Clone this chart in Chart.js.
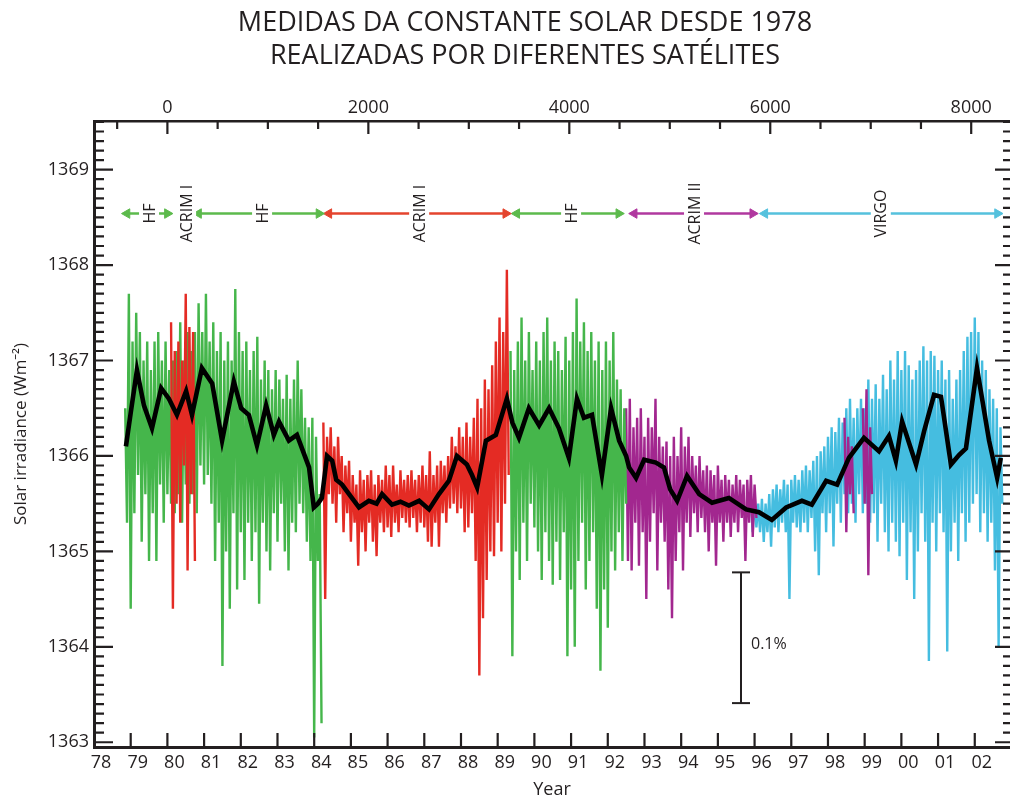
<!DOCTYPE html>
<html>
<head>
<meta charset="utf-8">
<script src="https://cdn.jsdelivr.net/npm/chart.js@4.4.1/dist/chart.umd.min.js"></script>
<style>
  html, body { margin: 0; padding: 0; background: #fff; }
  canvas { display: block; }
</style>
</head>
<body>
<canvas id="tsi-chart" width="1010" height="799"></canvas>
<script>
// ── Text ───────────────────────────────────────────────────────
const titleLines = ['MEDIDAS DA CONSTANTE SOLAR DESDE 1978', 'REALIZADAS POR DIFERENTES SATÉLITES'];
const xTitle = 'Year';
const yTitle = 'Solar irradiance (Wm⁻²)';

// ── Axes ───────────────────────────────────────────────────────
const yearTicks = [78, 79, 80, 81, 82, 83, 84, 85, 86, 87, 88, 89, 90, 91, 92, 93, 94, 95, 96, 97, 98, 99, 100, 101, 102];
const yearLabels = ['78', '79', '80', '81', '82', '83', '84', '85', '86', '87', '88', '89', '90', '91', '92', '93', '94', '95', '96', '97', '98', '99', '00', '01', '02'];
const dayTicks = [0, 2000, 4000, 6000, 8000];
const irradianceTicks = [1363, 1364, 1365, 1366, 1367, 1368, 1369];
const yearMin = 78, yearMax = 102.96;
const dayZeroYear = 80;          // day 0 = 1 Jan 1980
const irrMin = 1362.95, irrMax = 1369.51;

// ── Daily values, read as high / low per 0.1-year bin ─────────
const binStep = 0.1;

const hfEarlyStart = 78.85;
const hfEarlyHi = [1366.5, 1367.7, 1367.2, 1367.5, 1367.3, 1367.0, 1367.2, 1366.9, 1367.2, 1367.3,
                   1367.0, 1367.2, 1366.9, 1367.0, 1367.1, 1367.4, 1367.0, 1367.3, 1367.1, 1367.3,
                   1367.6, 1367.3, 1367.7, 1367.2, 1367.4, 1367.1, 1367.3, 1367.0, 1367.2, 1367.0,
                   1367.75, 1367.3, 1367.1, 1367.2, 1366.9, 1367.1, 1367.25, 1366.8, 1367.0, 1366.9,
                   1366.7, 1366.9, 1366.8, 1366.6, 1366.85, 1366.6, 1366.8, 1367.0, 1366.7, 1366.4,
                   1366.3, 1366.4, 1366.2, 1365.6];
const hfEarlyLo = [1365.3, 1364.4, 1365.4, 1365.8, 1365.1, 1365.6, 1364.9, 1365.4, 1364.9, 1365.7,
                   1365.3, 1365.6, 1365.5, 1365.4, 1365.6, 1365.3, 1365.7, 1365.5, 1365.6, 1365.4,
                   1365.9, 1365.7, 1365.8, 1365.5, 1364.9, 1365.3, 1363.8, 1365.0, 1364.4, 1365.4,
                   1364.6, 1365.2, 1364.7, 1365.3, 1364.9, 1365.2, 1364.45, 1365.3, 1365.0, 1364.8,
                   1365.4, 1365.1, 1365.5, 1365.0, 1364.8, 1365.3, 1365.2, 1365.5, 1365.4, 1365.1,
                   1364.9, 1363.05, 1364.9, 1363.2];

const acrimEarlyStart = 80.1;
const acrimEarlyHi = [1367.4, 1367.1, 1367.2, 1367.0, 1367.7, 1367.35, 1367.3];
const acrimEarlyLo = [1364.4, 1365.5, 1365.3, 1365.9, 1364.8, 1365.6, 1364.9];

const acrimStart = 84.25;
const acrimHi = [1366.35, 1366.2, 1366.3, 1366.1, 1366.2, 1366.0, 1365.9, 1365.95, 1365.8, 1365.7,
                 1365.85, 1365.75, 1365.8, 1365.85, 1365.7, 1365.8, 1365.75, 1365.9, 1365.8, 1365.9,
                 1365.7, 1365.85, 1365.75, 1365.8, 1365.85, 1365.75, 1365.8, 1365.9, 1365.8, 1366.05,
                 1365.8, 1365.9, 1365.95, 1365.9, 1366.0, 1366.2, 1366.1, 1366.3, 1366.2, 1366.35,
                 1366.2, 1366.4, 1366.6, 1366.5, 1366.8, 1366.7, 1366.95, 1367.2, 1367.45, 1367.3,
                 1367.95];
const acrimLo = [1364.5, 1365.6, 1365.5, 1365.3, 1365.6, 1365.2, 1365.4, 1365.1, 1365.3, 1364.85,
                 1365.2, 1365.0, 1365.3, 1365.1, 1364.95, 1365.3, 1365.2, 1365.25, 1365.15, 1365.3,
                 1365.2, 1365.35, 1365.3, 1365.25, 1365.35, 1365.2, 1365.3, 1365.25, 1365.1, 1365.05,
                 1365.3, 1365.05, 1365.4, 1365.3, 1365.45, 1365.5, 1365.4, 1365.45, 1365.2, 1365.25,
                 1365.4, 1364.9, 1363.7, 1364.3, 1364.7, 1365.0, 1364.95, 1365.3, 1365.0, 1365.5,
                 1365.8];

const hfLateStart = 89.35;
const hfLateHi = [1367.1, 1366.9, 1367.2, 1367.45, 1367.0, 1367.3, 1366.9, 1367.2, 1367.0, 1367.3,
                  1367.45, 1367.0, 1367.2, 1367.1, 1366.9, 1367.25, 1367.0, 1367.3, 1367.65, 1367.2,
                  1367.4, 1367.1, 1367.3, 1367.0, 1367.2, 1366.9, 1367.2, 1367.0, 1367.3, 1366.8,
                  1366.7, 1366.5];
const hfLateLo = [1363.9, 1365.0, 1364.7, 1365.3, 1364.9, 1365.5, 1365.25, 1365.0, 1364.7, 1365.2,
                  1364.9, 1364.65, 1365.1, 1364.7, 1365.2, 1363.9, 1364.6, 1364.0, 1364.9, 1365.3,
                  1364.6, 1364.9, 1365.2, 1364.4, 1363.75, 1364.6, 1364.2, 1365.0, 1364.8, 1365.2,
                  1364.9, 1365.5];

const acrim2Start = 92.5;
const acrim2Hi = [1366.5, 1366.6, 1366.3, 1366.4, 1366.5, 1366.2, 1366.4, 1366.3, 1366.6, 1366.2,
                  1366.1, 1366.15, 1366.0, 1366.2, 1366.0, 1366.3, 1366.1, 1366.2, 1366.0, 1365.9,
                  1366.0, 1365.85, 1365.9, 1365.85, 1365.8, 1365.9, 1365.75, 1365.8, 1365.75, 1365.7,
                  1365.8, 1365.75, 1365.7, 1365.75, 1365.8, 1365.7];
const acrim2Lo = [1364.9, 1364.8, 1365.3, 1364.85, 1365.2, 1364.5, 1365.1, 1365.4, 1364.8, 1365.3,
                  1365.1, 1364.6, 1364.3, 1364.9, 1365.2, 1364.8, 1365.3, 1365.15, 1365.4, 1365.2,
                  1365.35, 1365.2, 1365.0, 1365.3, 1364.85, 1365.3, 1365.1, 1365.3, 1365.15, 1365.3,
                  1365.2, 1365.35, 1364.9, 1365.3, 1365.15, 1365.35];

const acrim2LateStart = 98.45;
const acrim2LateHi = [1366.4, 1366.2, 1366.1, null, null, 1366.5, 1366.7, 1366.3];
const acrim2LateLo = [1365.2, 1365.6, 1365.4, null, null, 1365.5, 1364.75, 1365.6];

const virgoStart = 95.9;
const virgoHi = [1365.5, 1365.55, 1365.5, 1365.55, 1365.5, 1365.6, 1365.65, 1365.7, 1365.65, 1365.75,
                 1365.7, 1365.75, 1365.8, 1365.75, 1365.85, 1365.9, 1365.85, 1365.95, 1366.0, 1366.05,
                 1366.1, 1366.2, 1366.3, 1366.25, 1366.4, 1366.35, 1366.5, 1366.6, 1366.4, 1366.5,
                 1366.6, 1366.5, 1366.8, 1366.6, 1366.75, 1366.6, 1366.85, 1366.7, 1367.0, 1366.8,
                 1367.1, 1366.9, 1367.1, 1366.95, 1366.8, 1366.9, 1367.0, 1367.15, 1367.0, 1367.1,
                 1367.05, 1366.9, 1367.0, 1366.8, 1366.9, 1366.6, 1366.8, 1366.9, 1367.1, 1367.25,
                 1367.3, 1367.45, 1367.3, 1367.0, 1366.9, 1366.7, 1366.6, 1366.5, 1366.3];
const virgoLo = [1365.2, 1365.25, 1365.2, 1365.1, 1365.2, 1365.05, 1365.25, 1365.2, 1365.3, 1365.2,
                 1364.5, 1365.3, 1365.25, 1365.2, 1365.3, 1365.2, 1365.35, 1365.0, 1364.75, 1365.4,
                 1365.2, 1365.4, 1365.05, 1365.5, 1365.3, 1365.6, 1365.4, 1365.5, 1365.3, 1365.6,
                 1365.4, 1365.5, 1365.3, 1365.4, 1365.1, 1365.5, 1365.2, 1365.0, 1365.3, 1365.1,
                 1364.95, 1365.3, 1364.7, 1365.2, 1364.5, 1365.0, 1365.4, 1365.1, 1363.85, 1365.3,
                 1365.0, 1365.4, 1365.2, 1363.95, 1365.0, 1365.3, 1364.9, 1365.4, 1365.1, 1365.3,
                 1365.5, 1365.6, 1365.2, 1365.4, 1365.1, 1365.3, 1364.8, 1364.0, 1365.5];

// ── Running mean (black) ──────────────────────────────────────
const meanYears = [78.87, 79.0, 79.17, 79.36, 79.58, 79.83, 80.04, 80.26, 80.51, 80.67,
                   80.94, 81.22, 81.49, 81.81, 82.01, 82.22, 82.44, 82.69, 82.9, 83.04,
                   83.31, 83.53, 83.86, 83.99, 84.1, 84.21, 84.35, 84.49, 84.6, 84.76,
                   84.95, 85.22, 85.49, 85.7, 85.85, 86.12, 86.35, 86.58, 86.86, 87.13,
                   87.4, 87.67, 87.89, 88.16, 88.3, 88.44, 88.68, 88.95, 89.25, 89.4,
                   89.58, 89.85, 90.13, 90.4, 90.67, 90.94, 91.16, 91.35, 91.57, 91.84,
                   92.09, 92.31, 92.5, 92.58, 92.77, 92.99, 93.31, 93.53, 93.7, 93.89,
                   94.16, 94.49, 94.84, 95.3, 95.77, 96.12, 96.47, 96.86, 97.29, 97.56,
                   97.95, 98.25, 98.57, 98.98, 99.39, 99.66, 99.85, 100.02, 100.4, 100.62,
                   100.89, 101.08, 101.35, 101.57, 101.76, 102.06, 102.39, 102.61, 102.71];
const meanValues = [1366.1, 1366.45, 1366.9, 1366.53, 1366.29, 1366.71, 1366.6, 1366.43, 1366.68, 1366.43,
                    1366.92, 1366.76, 1366.16, 1366.78, 1366.5, 1366.43, 1366.11, 1366.53, 1366.22, 1366.36,
                    1366.16, 1366.22, 1365.88, 1365.46, 1365.5, 1365.56, 1366.0, 1365.95, 1365.75, 1365.7,
                    1365.6, 1365.46, 1365.53, 1365.5, 1365.6, 1365.49, 1365.52, 1365.48, 1365.53, 1365.44,
                    1365.6, 1365.74, 1366.0, 1365.91, 1365.8, 1365.67, 1366.16, 1366.22, 1366.6, 1366.35,
                    1366.19, 1366.5, 1366.32, 1366.5, 1366.29, 1365.98, 1366.6, 1366.4, 1366.43, 1365.8,
                    1366.5, 1366.16, 1366.0, 1365.88, 1365.77, 1365.96, 1365.93, 1365.88, 1365.65, 1365.53,
                    1365.79, 1365.6, 1365.51, 1365.56, 1365.44, 1365.41, 1365.33, 1365.46, 1365.53, 1365.49,
                    1365.74, 1365.7, 1365.98, 1366.19, 1366.05, 1366.21, 1365.95, 1366.36, 1365.91, 1366.26,
                    1366.64, 1366.62, 1365.91, 1366.01, 1366.08, 1366.92, 1366.16, 1365.77, 1365.98];

// ── Instrument periods (arrows) ───────────────────────────────
const instruments = ['HF', 'ACRIM I', 'HF', 'ACRIM I', 'HF', 'ACRIM II', 'VIRGO'];
const instrumentKeys = ['hf', 'acrim', 'hf', 'acrim', 'hf', 'acrim2', 'virgo'];
const instrumentStart = [78.9, null, 80.85, 84.4, 89.52, 92.72, 96.28];
const instrumentEnd = [80.0, null, 84.13, 89.22, 92.3, 95.95, 102.62];
const instrumentLabelAt = [79.5, 80.51, 82.58, 86.86, 91.0, 94.35, 99.44];
const arrowLevel = 1368.54;

// ── 0.1 % scale bar ───────────────────────────────────────────
const scaleBarYear = 95.63;
const scaleBarTop = 1364.78;
const scaleBarBottom = 1363.41;
const scaleBarLabel = '0.1%';

// ── Styles ────────────────────────────────────────────────────
const INK = '#231f20';
const FONT = "'Open Sans', 'Noto Sans', sans-serif";
const dataColor = { hf: '#45b64b', acrim: '#e42b24', acrim2: '#a2278f', virgo: '#45bde0' };
const arrowColor = { hf: '#5cba4c', acrim: '#e4442e', acrim2: '#b0389f', virgo: '#55c1dd' };

// high/low pairs -> alternating points (daily scatter look)
function zigzag(start, hi, lo) {
    const pts = [];
    hi.forEach((h, i) => {
        const t = start + i * binStep;
        if (h === null) {
            pts.push({ x: t, y: null });
            return;
        }
        pts.push({ x: t, y: h });
        pts.push({ x: t + binStep / 2, y: lo[i] });
    });
    return pts;
}

function noiseSet(pts, key, order) {
    return {
        type: 'line',
        data: pts,
        borderColor: dataColor[key],
        borderWidth: 2.4,
        borderJoinStyle: 'miter',
        pointRadius: 0,
        tension: 0,
        spanGaps: false,
        order: order
    };
}

const arrowSets = [];
instruments.forEach((name, i) => {
    if (instrumentStart[i] === null) return;
    const c = arrowColor[instrumentKeys[i]];
    arrowSets.push({
        type: 'line',
        data: [{ x: instrumentStart[i], y: arrowLevel }, { x: instrumentEnd[i], y: arrowLevel }],
        borderColor: c,
        backgroundColor: c,
        borderWidth: 2.5,
        pointStyle: 'triangle',
        pointRadius: 5.5,
        pointRotation: [270, 90],
        pointBorderWidth: 1,
        order: 0
    });
});

// ── Annotations, inward ticks, title ──────────────────────────
const decorations = {
    id: 'decorations',
    afterDatasetsDraw(chart) {
        const { ctx, chartArea: a, scales: { x, x2, y } } = chart;
        ctx.save();

        // instrument labels sit in a gap of their arrow
        ctx.font = `16px ${FONT}`;
        ctx.textAlign = 'center';
        ctx.textBaseline = 'middle';
        instruments.forEach((name, i) => {
            const px = x.getPixelForValue(instrumentLabelAt[i]);
            const py = y.getPixelForValue(arrowLevel);
            const w = ctx.measureText(name).width;
            ctx.save();
            ctx.translate(px, py);
            ctx.rotate(-Math.PI / 2);
            ctx.fillStyle = '#fff';
            ctx.fillRect(-w / 2 - 5, -10, w + 10, 20);
            ctx.fillStyle = INK;
            ctx.fillText(name, 0, 1);
            ctx.restore();
        });

        // scale bar label
        const bx = x.getPixelForValue(scaleBarYear);
        const by = (y.getPixelForValue(scaleBarTop) + y.getPixelForValue(scaleBarBottom)) / 2;
        ctx.textAlign = 'left';
        ctx.fillStyle = INK;
        ctx.fillText(scaleBarLabel, bx + 10, by + 7);

        // inward tick marks
        ctx.strokeStyle = INK;
        ctx.lineWidth = 2.2;
        ctx.beginPath();
        for (let k = Math.ceil(y.min * 10); k <= Math.floor(y.max * 10); k++) {
            const py = y.getPixelForValue(k / 10);
            const major = k % 10 === 0;
            ctx.moveTo(a.left, py);
            ctx.lineTo(a.left + (major ? 19 : 10), py);
            ctx.moveTo(a.right, py);
            ctx.lineTo(a.right - (major ? 15 : 7), py);
        }
        for (let d = Math.ceil(x2.min / 500) * 500; d <= x2.max; d += 500) {
            const px = x2.getPixelForValue(d);
            ctx.moveTo(px, a.top);
            ctx.lineTo(px, a.top + (d % 2000 === 0 ? 13 : 8));
        }
        yearTicks.forEach(v => {
            if (v === yearMin) return;
            const px = x.getPixelForValue(v);
            ctx.moveTo(px, a.bottom);
            ctx.lineTo(px, a.bottom - 14);
        });
        ctx.stroke();

        // two-line title
        ctx.font = `27px ${FONT}`;
        ctx.textAlign = 'center';
        ctx.textBaseline = 'middle';
        ctx.fillText(titleLines[0], 525, 23);
        ctx.fillText(titleLines[1], 525, 56);
        ctx.restore();
    }
};

const ctx = document.getElementById('tsi-chart').getContext('2d');

new Chart(ctx, {
    type: 'line',
    data: {
        datasets: [
            ...arrowSets,
            {
                type: 'line',
                data: [{ x: scaleBarYear, y: scaleBarTop }, { x: scaleBarYear, y: scaleBarBottom }],
                borderColor: INK,
                borderWidth: 2,
                pointStyle: 'line',
                pointRadius: 9,
                pointBorderColor: INK,
                pointBorderWidth: 2,
                order: 0
            },
            {
                type: 'line',
                data: meanYears.map((t, i) => ({ x: t, y: meanValues[i] })),
                borderColor: '#000',
                borderWidth: 4.6,
                pointRadius: 0,
                tension: 0,
                order: 1
            },
            noiseSet(zigzag(acrimEarlyStart, acrimEarlyHi, acrimEarlyLo), 'acrim', 2),
            noiseSet(zigzag(acrim2LateStart, acrim2LateHi, acrim2LateLo), 'acrim2', 2),
            noiseSet(zigzag(hfEarlyStart, hfEarlyHi, hfEarlyLo), 'hf', 3),
            noiseSet(zigzag(acrimStart, acrimHi, acrimLo), 'acrim', 3),
            noiseSet(zigzag(hfLateStart, hfLateHi, hfLateLo), 'hf', 3),
            noiseSet(zigzag(virgoStart, virgoHi, virgoLo), 'virgo', 4),
            noiseSet(zigzag(acrim2Start, acrim2Hi, acrim2Lo), 'acrim2', 3)
        ]
    },
    options: {
        responsive: false,
        animation: false,
        events: [],
        layout: { padding: 0, autoPadding: false },
        plugins: {
            legend: { display: false },
            tooltip: { enabled: false },
            title: { display: false }
        },
        scales: {
            x: {
                type: 'linear',
                position: 'bottom',
                min: yearMin,
                max: yearMax,
                afterFit: s => { s.height = 52; },
                afterBuildTicks: s => { s.ticks = yearTicks.map(v => ({ value: v })); },
                grid: { display: false, drawTicks: false },
                border: { display: true, color: INK, width: 3 },
                ticks: {
                    callback: v => yearLabels[yearTicks.indexOf(v)],
                    font: { family: FONT, size: 18 },
                    color: INK,
                    padding: 5,
                    labelOffset: 7,
                    maxRotation: 0,
                    autoSkip: false
                },
                title: {
                    display: true,
                    text: xTitle,
                    font: { family: FONT, size: 18, lineHeight: 1 },
                    color: INK,
                    padding: { top: 0, bottom: 0 }
                }
            },
            x2: {
                type: 'linear',
                position: 'top',
                min: (yearMin - dayZeroYear) * 365.25,
                max: (yearMax - dayZeroYear) * 365.25,
                afterFit: s => { s.height = 121; },
                afterBuildTicks: s => { s.ticks = dayTicks.map(v => ({ value: v })); },
                grid: { display: false, drawTicks: false },
                border: { display: true, color: INK, width: 2.5 },
                ticks: {
                    callback: v => String(v),
                    font: { family: FONT, size: 18 },
                    color: INK,
                    padding: 2,
                    maxRotation: 0,
                    autoSkip: false
                }
            },
            y: {
                type: 'linear',
                position: 'left',
                min: irrMin,
                max: irrMax,
                afterFit: s => { s.width = 94; },
                afterBuildTicks: s => { s.ticks = irradianceTicks.map(v => ({ value: v })); },
                grid: { display: false, drawTicks: false },
                border: { display: true, color: INK, width: 3 },
                ticks: {
                    callback: v => String(v),
                    font: { family: FONT, size: 18 },
                    color: INK,
                    padding: 5
                },
                title: {
                    display: true,
                    text: yTitle,
                    font: { family: FONT, size: 17 },
                    color: INK,
                    padding: { top: 11, bottom: 0 }
                }
            }
        }
    },
    plugins: [decorations]
});
</script>
</body>
</html>
